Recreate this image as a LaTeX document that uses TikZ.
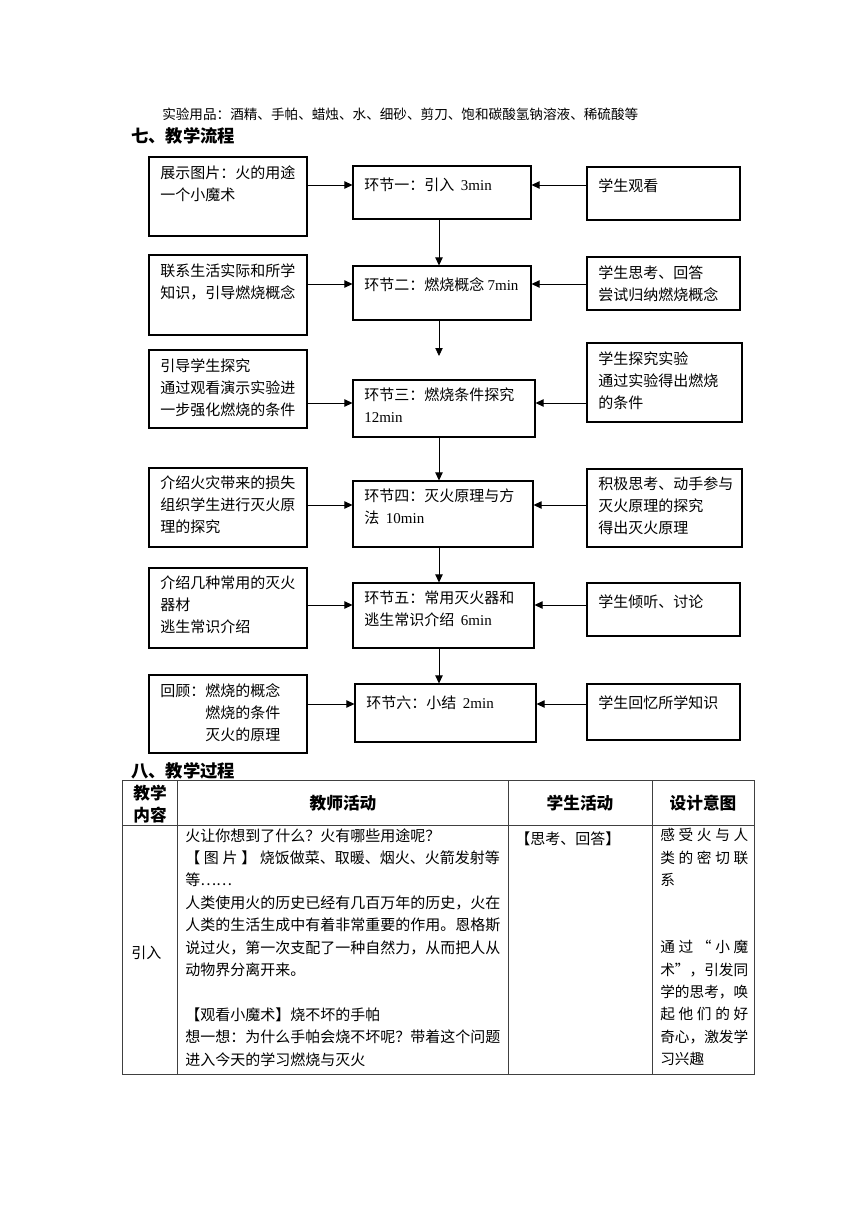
\documentclass[tikz,border=0pt]{standalone}
\usepackage{fontspec}
\setmainfont{Liberation Serif}
\newfontfamily\cjk{Noto Sans CJK SC}
\usetikzlibrary{arrows.meta,fit,positioning}
\newcommand{\mn}[1]{{\rmfamily #1}}
\newcommand{\wide}[1]{\makebox[66pt][s]{#1}}
\tikzset{
	flowbox/.style={draw, line width=0.8pt, inner sep=0pt},
	flowtext/.style={anchor=north west, inner sep=0pt, align=left, execute at begin node={\rule{0pt}{12pt}}, font=\cjk\fontsize{11.25}{16.5}\selectfont},
	flowarrow/.style={line width=0.6pt, -{Triangle[length=6pt,width=5.5pt]}},
	tabline/.style={line width=0.6pt, black!75},
	tabhead/.style={inner sep=0pt, align=center, font=\cjk\bfseries\fontsize{12.5}{16.5}\selectfont},
	tabtext/.style={anchor=north west, inner sep=0pt, align=left, execute at begin node={\rule{0pt}{12pt}}, font=\cjk\fontsize{11.25}{16.8}\selectfont},
	sectitle/.style={anchor=base west, inner sep=0pt, font=\cjk\bfseries\fontsize{13}{16}\selectfont}
}
\begin{document}
\begin{tikzpicture}[x=0.75pt, y=-0.75pt]
	\useasboundingbox (0,0) rectangle (860,1216);

	\node[anchor=base west, inner sep=0pt, font=\cjk\fontsize{10.2}{14}\selectfont] (items) at (162,120) {实验用品：酒精、手帕、蜡烛、水、细砂、剪刀、饱和碳酸氢钠溶液、稀硫酸等};
	\node[sectitle] (flowtitle) at (131,143) {七、教学流程};

	\node[flowbox, fit={(149,157) (307,236)}] (l1) {};
	\node[flowbox, fit={(353,166) (531,219)}] (m1) {};
	\node[flowbox, fit={(587,167) (740,220)}] (r1) {};
	\node[flowtext] (l1t) at (160,165) {展示图片：火的用途\\一个小魔术};
	\node[flowtext] (m1t) at (364,174) {环节一：引入\ \ \mn{3min}};
	\node[flowtext] (r1t) at (598,175) {学生观看};

	\node[flowbox, fit={(149,255) (307,335)}] (l2) {};
	\node[flowbox, fit={(353,266) (531,320)}] (m2) {};
	\node[flowbox, fit={(587,257) (740,310)}] (r2) {};
	\node[flowtext] (l2t) at (160,263) {联系生活实际和所学\\知识，引导燃烧概念};
	\node[flowtext] (m2t) at (364,274) {环节二：燃烧概念 \mn{7min}};
	\node[flowtext] (r2t) at (598,265) {学生思考、回答\\尝试归纳燃烧概念};

	\node[flowbox, fit={(149,350) (307,428)}] (l3) {};
	\node[flowbox, fit={(353,380) (535,437)}] (m3) {};
	\node[flowbox, fit={(587,343) (742,422)}] (r3) {};
	\node[flowtext] (l3t) at (160,358) {引导学生探究\\通过观看演示实验进\\一步强化燃烧的条件};
	\node[flowtext] (m3t) at (364,388) {环节三：燃烧条件探究\\\mn{12min}};
	\node[flowtext] (r3t) at (598,351) {学生探究实验\\通过实验得出燃烧\\的条件};

	\node[flowbox, fit={(149,468) (307,547)}] (l4) {};
	\node[flowbox, fit={(353,481) (533,547)}] (m4) {};
	\node[flowbox, fit={(587,469) (742,547)}] (r4) {};
	\node[flowtext] (l4t) at (160,476) {介绍火灾带来的损失\\组织学生进行灭火原\\理的探究};
	\node[flowtext] (m4t) at (364,489) {环节四：灭火原理与方\\法\ \ \mn{10min}};
	\node[flowtext] (r4t) at (598,477) {积极思考、动手参与\\灭火原理的探究\\得出灭火原理};

	\node[flowbox, fit={(149,568) (307,648)}] (l5) {};
	\node[flowbox, fit={(353,583) (534,648)}] (m5) {};
	\node[flowbox, fit={(587,583) (740,636)}] (r5) {};
	\node[flowtext] (l5t) at (160,576) {介绍几种常用的灭火\\器材\\逃生常识介绍};
	\node[flowtext] (m5t) at (364,591) {环节五：常用灭火器和\\逃生常识介绍\ \ \mn{6min}};
	\node[flowtext] (r5t) at (598,591) {学生倾听、讨论};

	\node[flowbox, fit={(149,675) (307,753)}] (l6) {};
	\node[flowbox, fit={(355,684) (536,742)}] (m6) {};
	\node[flowbox, fit={(587,684) (740,740)}] (r6) {};
	\node[flowtext] (l6t) at (160,683) {回顾：燃烧的概念\\\phantom{回顾：}燃烧的条件\\\phantom{回顾：}灭火的原理};
	\node[flowtext] (m6t) at (366,692) {环节六：小结\ \ \mn{2min}};
	\node[flowtext] (r6t) at (598,692) {学生回忆所学知识};

	\draw[flowarrow] (l1.east |- 0,185) -- (m1.west |- 0,185);
	\draw[flowarrow] (r1.west |- 0,185) -- (m1.east |- 0,185);
	\draw[flowarrow] (l2.east |- 0,284) -- (m2.west |- 0,284);
	\draw[flowarrow] (r2.west |- 0,284) -- (m2.east |- 0,284);
	\draw[flowarrow] (l3.east |- 0,403) -- (m3.west |- 0,403);
	\draw[flowarrow] (r3.west |- 0,403) -- (m3.east |- 0,403);
	\draw[flowarrow] (l4.east |- 0,505) -- (m4.west |- 0,505);
	\draw[flowarrow] (r4.west |- 0,505) -- (m4.east |- 0,505);
	\draw[flowarrow] (l5.east |- 0,605) -- (m5.west |- 0,605);
	\draw[flowarrow] (r5.west |- 0,605) -- (m5.east |- 0,605);
	\draw[flowarrow] (l6.east |- 0,704) -- (m6.west |- 0,704);
	\draw[flowarrow] (r6.west |- 0,704) -- (m6.east |- 0,704);

	\coordinate (m2end) at (439,356);
	\draw[flowarrow] (m1.south -| 439,0) -- (m2.north -| 439,0);
	\draw[flowarrow] (m2.south -| 439,0) -- (m2end);
	\draw[flowarrow] (m3.south -| 439,0) -- (m4.north -| 439,0);
	\draw[flowarrow] (m4.south -| 439,0) -- (m5.north -| 439,0);
	\draw[flowarrow] (m5.south -| 439,0) -- (m6.north -| 439,0);

	\node[sectitle] (tabtitle) at (131,777) {八、教学过程};

	\draw[tabline] (122,780) rectangle (754,1074);
	\draw[tabline] (122,825) -- (754,825);
	\draw[tabline] (177,780) -- (177,1074);
	\draw[tabline] (508,780) -- (508,1074);
	\draw[tabline] (652,780) -- (652,1074);

	\node[tabhead] (h1) at (150,804) {教学\\内容};
	\node[tabhead] (h2) at (343,803) {教师活动};
	\node[tabhead] (h3) at (580,803) {学生活动};
	\node[tabhead] (h4) at (703,803) {设计意图};

	\node[tabtext] (c1) at (131,942) {引入};
	\node[tabtext] (c2) at (185,828) {火让你想到了什么？火有哪些用途呢？\\\makebox[236pt][s]{【\hfil 图\hfil 片\hfil 】\hfil 烧饭做菜、取暖、烟火、火箭发射等}\\等……\\人类使用火的历史已经有几百万年的历史，火在\\人类的生活生成中有着非常重要的作用。恩格斯\\说过火，第一次支配了一种自然力，从而把人从\\动物界分离开来。\\\mbox{}\\【观看小魔术】烧不坏的手帕\\想一想：为什么手帕会烧不坏呢？带着这个问题\\进入今天的学习燃烧与灭火};
	\node[tabtext] (c3) at (515,828) {【思考、回答】};
	\node[tabtext, font=\cjk\fontsize{11}{16.8}\selectfont] (c4) at (660,828) {\wide{感\hfil 受\hfil 火\hfil 与\hfil 人}\\\wide{类\hfil 的\hfil 密\hfil 切\hfil 联}\\系\\\mbox{}\\\mbox{}\\\wide{通\hfil 过\hfil “\hfil 小\hfil 魔}\\\wide{术\hfil ”，\hfil 引\hfil 发\hfil 同}\\\wide{学\hfil 的\hfil 思\hfil 考，\hfil 唤}\\\wide{起\hfil 他\hfil 们\hfil 的\hfil 好}\\\wide{奇\hfil 心，\hfil 激\hfil 发\hfil 学}\\习兴趣};

\end{tikzpicture}
\end{document}
